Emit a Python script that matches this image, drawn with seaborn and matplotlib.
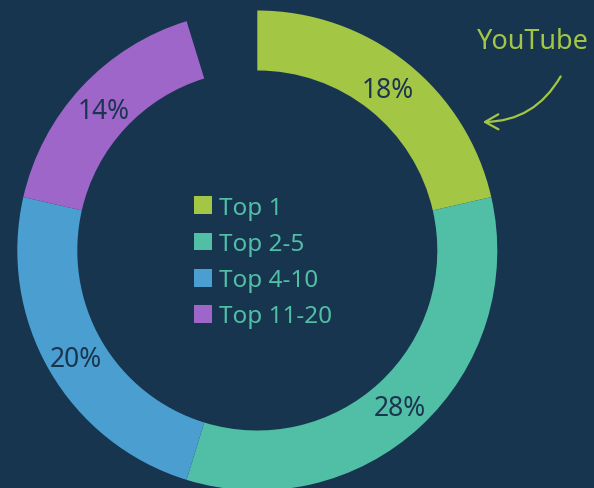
import matplotlib
matplotlib.use("Agg")
import matplotlib.pyplot as plt
from matplotlib.patches import Patch
import seaborn as sns

# Share of views by ranking tier
tiers = ["Top 1", "Top 2-5", "Top 4-10", "Top 11-20"]
shares = [18, 28, 20, 14]
pct_labels = ["18%", "28%", "20%", "14%"]
gap_share = 4  # unfilled remainder of the ring

bg = "#17354f"
tier_colors = ["#a3c644", "#50bfa5", "#4a9fd0", "#9e66c9"]
label_color = "#1b3550"
legend_color = "#50bfa5"

sns.set_theme(style="white", rc={"axes.facecolor": bg, "figure.facecolor": bg})
plt.rcParams["font.family"] = ["Noto Sans", "DejaVu Sans"]
palette = sns.color_palette(tier_colors)

W, H = 594, 489
fig = plt.figure(figsize=(W / 100, H / 100), dpi=100)
ax = fig.add_axes([0, 0, 1, 1])

cx, cy, R = 257.3, H - 251.5, 240

wedges, texts = ax.pie(
    shares + [gap_share],
    colors=list(palette) + [bg],
    labels=pct_labels + [""],
    labeldistance=0.875,
    startangle=90,
    counterclock=False,
    radius=R,
    center=(cx, cy),
    frame=True,
    wedgeprops=dict(width=R * 0.25, linewidth=0),
    textprops=dict(color=label_color, fontsize=19),
)
wedges[-1].set_visible(False)
for t in texts:
    t.set_ha("center")
    t.set_va("center_baseline")

handles = [Patch(facecolor=c, edgecolor="none") for c in palette]
leg = ax.legend(
    handles, tiers,
    loc="center",
    bbox_to_anchor=(263, H - 263),
    bbox_transform=ax.transData,
    frameon=False,
    fontsize=17.5,
    handlelength=0.75,
    handleheight=0.75,
    handletextpad=0.3,
    labelspacing=0.5,
    borderpad=0,
)
for t in leg.get_texts():
    t.set_color(legend_color)

ax.annotate(
    "",
    xy=(480, H - 123),
    xytext=(562, H - 75),
    arrowprops=dict(arrowstyle="->,head_length=0.8,head_width=0.45",
                    color="#a3c644", lw=1.6,
                    connectionstyle="arc3,rad=-0.3"),
)
ax.text(477, H - 42, "YouTube", color="#a3c644", fontsize=19.5,
        ha="left", va="center")

ax.set_xlim(0, W)
ax.set_ylim(0, H)
ax.set_aspect("equal")
ax.axis("off")

fig.savefig("out.png", dpi=100, facecolor=bg)
